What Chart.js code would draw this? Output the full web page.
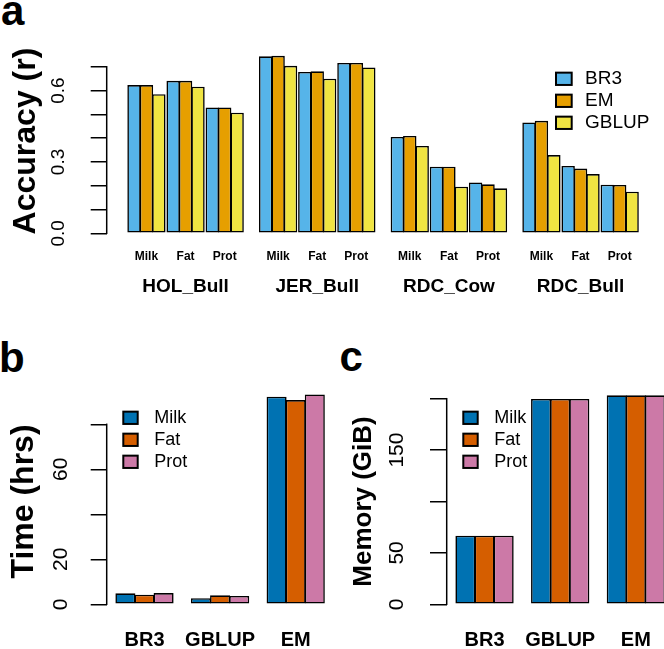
<!DOCTYPE html>
<html>
<head>
<meta charset="utf-8">
<script src="https://cdn.jsdelivr.net/npm/chart.js@4.4.1/dist/chart.umd.min.js"></script>
<style>
  body { margin: 0; width: 664px; height: 649px; overflow: hidden; background: #fff; position: relative;
         font-family: 'Liberation Sans', Arial, sans-serif; }
  canvas { position: absolute; }
  .tag { position: absolute; font-weight: bold; font-size: 42px; line-height: 1; }
</style>
</head>
<body>
<div class="tag" style="left:1px;top:-9.6px">a</div>
<div class="tag" style="left:-1px;top:337.4px">b</div>
<div class="tag" style="left:339.5px;top:336.4px">c</div>
<canvas id="chartA" width="664" height="310" style="left:0;top:0"></canvas>
<canvas id="chartB" width="340" height="319" style="left:0;top:330px"></canvas>
<canvas id="chartC" width="350" height="319" style="left:330px;top:330px"></canvas>
<script>
// panel a: prediction accuracy
const populations = ['HOL_Bull', 'JER_Bull', 'RDC_Cow', 'RDC_Bull'];
const traits = ['Milk', 'Fat', 'Prot'];
// order: population x trait (Milk, Fat, Prot)
const accBR3 = [0.623, 0.641, 0.529, 0.744, 0.678, 0.716, 0.405, 0.280, 0.214, 0.466, 0.283, 0.204];
const accEM = [0.623, 0.641, 0.529, 0.746, 0.681, 0.716, 0.409, 0.280, 0.206, 0.473, 0.272, 0.203];
const accGBLUP = [0.585, 0.616, 0.507, 0.704, 0.650, 0.697, 0.367, 0.196, 0.189, 0.329, 0.249, 0.175];
const accTickLabels = ['0.0', '0.3', '0.6'];

// panels b and c: compute cost
const methods = ['BR3', 'GBLUP', 'EM'];
const timeMilk = [4.9, 2.7, 92.3];
const timeFat = [4.3, 4.0, 90.8];
const timeProt = [5.0, 3.7, 93.3];
const timeTickLabels = ['0', '20', '60'];
const memMilk = [66.9, 200, 203.6];
const memFat = [66.9, 200, 203.6];
const memProt = [66.9, 200, 203.6];
const memTickLabels = ['0', '50', '150'];

Chart.defaults.font.family = "'Liberation Sans', Arial, Helvetica, sans-serif";
Chart.defaults.color = '#000';
Chart.defaults.animation = false;
Chart.defaults.plugins.legend.display = false;
Chart.defaults.plugins.tooltip.enabled = false;

// R style axis line: only from first to last tick
const axisLine = {
  id: 'axisLine',
  afterDraw(chart) {
    const y = chart.scales.y;
    const t = y.ticks;
    const x = chart.chartArea.left;
    const ctx = chart.ctx;
    ctx.save();
    ctx.strokeStyle = '#000';
    ctx.lineWidth = 1.5;
    ctx.beginPath();
    ctx.moveTo(x, y.getPixelForValue(t[0].value) + 0.75);
    ctx.lineTo(x, y.getPixelForValue(t[t.length - 1].value) - 0.75);
    ctx.stroke();
    ctx.restore();
  }
};

const boxLegend = {
  id: 'boxLegend',
  afterDraw(chart, args, o) {
    const ctx = chart.ctx;
    ctx.save();
    ctx.font = o.size + "px 'Liberation Sans', Arial, sans-serif";
    ctx.textBaseline = 'middle';
    chart.data.datasets.forEach((ds, i) => {
      const cy = o.y + i * o.gap;
      ctx.fillStyle = ds.backgroundColor;
      ctx.fillRect(o.x, cy - o.h / 2, o.w, o.h);
      ctx.strokeStyle = '#000';
      ctx.lineWidth = 2;
      ctx.strokeRect(o.x, cy - o.h / 2, o.w, o.h);
      ctx.fillStyle = '#000';
      ctx.fillText(ds.label, o.textX, cy);
    });
    ctx.restore();
  }
};

function yAxis(o) {
  return {
    min: 0,
    max: o.max,
    afterFit: s => { s.width = o.width; },
    border: { display: false },
    grid: { drawOnChartArea: false, drawTicks: true, tickLength: o.tickLen, color: '#000', lineWidth: 1.5 },
    ticks: {
      stepSize: o.step, includeBounds: false, autoSkip: false,
      minRotation: 90, maxRotation: 90, crossAlign: 'center',
      padding: o.pad, font: { size: o.tickSize },
      callback: v => {
        const s = o.fmt(v);
        return o.shown.includes(s) ? s : '';
      }
    },
    title: { display: true, text: o.title, font: { size: o.titleSize, weight: 'bold' }, padding: { top: o.titlePad, bottom: 0 } }
  };
}

// ---- panel a ----
const popStep = 10.6, traitStep = 3.15;
function barX(k, m) {
  return Math.floor(k / 3) * popStep + (k % 3) * traitStep + m + 0.5;
}
function points(values, m) {
  return values.map((v, k) => ({ x: barX(k, m), y: v }));
}
const traitTicks = accBR3.map((v, k) => barX(k, 1));
const popTicks = populations.map((p, i) => barX(i * 3 + 1, 1));

const barStyle = { borderColor: '#000', borderWidth: 1.6, borderSkipped: false, grouped: false,
                   barPercentage: 1.08, categoryPercentage: 1 };

new Chart(document.getElementById('chartA'), {
  type: 'bar',
  data: {
    datasets: [
      Object.assign({ label: 'BR3', data: points(accBR3, 0), backgroundColor: '#56B4E9' }, barStyle),
      Object.assign({ label: 'EM', data: points(accEM, 1), backgroundColor: '#E69F00' }, barStyle),
      Object.assign({ label: 'GBLUP', data: points(accGBLUP, 2), backgroundColor: '#F0E442' }, barStyle)
    ]
  },
  options: {
    responsive: false,
    layout: { padding: { top: 48.7, right: 14.5, left: 0, bottom: 0 } },
    scales: {
      x: {
        type: 'linear', min: -1.7, max: 42, offset: false, weight: 1,
        afterBuildTicks: s => { s.ticks = traitTicks.map(v => ({ value: v })); },
        afterFit: s => { s.height = 38; },
        grid: { display: false, drawTicks: false },
        border: { display: false },
        ticks: { autoSkip: false, maxRotation: 0, padding: 16.5, font: { size: 12, weight: 'bold' },
                 callback: (v, i) => traits[i % 3] }
      },
      x2: {
        type: 'linear', position: 'bottom', min: -1.7, max: 42, offset: false, weight: 2,
        afterBuildTicks: s => { s.ticks = popTicks.map(v => ({ value: v })); },
        afterFit: s => { s.height = 38.7; },
        grid: { display: false, drawTicks: false },
        border: { display: false },
        ticks: { autoSkip: false, maxRotation: 0, padding: 4.3, font: { size: 19, weight: 'bold' },
                 callback: (v, i) => populations[i] }
      },
      y: yAxis({ max: 0.776, width: 106.7, tickLen: 16, step: 0.1, pad: 18.8, tickSize: 19,
                 fmt: v => v.toFixed(1), shown: accTickLabels,
                 title: 'Accuracy (r)', titleSize: 32, titlePad: 6.7 })
    },
    plugins: {
      boxLegend: { x: 556, y: 78.8, gap: 22, w: 15.7, h: 12.3, textX: 585, size: 19 }
    }
  },
  plugins: [axisLine, boxLegend]
});

// ---- panels b and c ----
const costStyle = { borderColor: '#000', borderWidth: 1.6, borderSkipped: false, clip: false,
                    barPercentage: 1.05, categoryPercentage: 0.758 };

function costChart(id, milk, fat, prot, o) {
  return new Chart(document.getElementById(id), {
    type: 'bar',
    data: {
      labels: methods,
      datasets: [
        Object.assign({ label: 'Milk', data: milk, backgroundColor: '#0072B2' }, costStyle),
        Object.assign({ label: 'Fat', data: fat, backgroundColor: '#D55E00' }, costStyle),
        Object.assign({ label: 'Prot', data: prot, backgroundColor: '#CC79A7' }, costStyle)
      ]
    },
    options: {
      responsive: false,
      layout: { padding: { top: 68.7, right: o.right, left: 0, bottom: 0 } },
      scales: {
        x: {
          afterFit: s => { s.height = 44.7; },
          grid: { display: false, drawTicks: false },
          border: { display: false },
          ticks: { autoSkip: false, maxRotation: 0, padding: 24.2, font: { size: 20, weight: 'bold' } }
        },
        y: yAxis(o.y)
      },
      plugins: {
        boxLegend: { x: o.legendX, y: 87.8, gap: 22, w: 14.4, h: 12.3, textX: o.legendX + 31, size: 18 }
      }
    },
    plugins: [axisLine, boxLegend]
  });
}

costChart('chartB', timeMilk, timeFat, timeProt, {
  right: 6.5, legendX: 123.3,
  y: { max: 91.4, width: 106.7, tickLen: 16, step: 20, pad: 18.2, tickSize: 21,
       fmt: v => String(Math.round(v)), shown: timeTickLabels,
       title: 'Time (hrs)', titleSize: 32, titlePad: 5 }
});

costChart('chartC', memMilk, memFat, memProt, {
  right: 6.3, legendX: 133.3,
  y: { max: 200.3, width: 116.7, tickLen: 16.7, step: 50, pad: 15, tickSize: 21,
       fmt: v => String(Math.round(v)), shown: memTickLabels,
       title: 'Memory (GiB)', titleSize: 26, titlePad: 18.4 }
});
</script>
</body>
</html>
